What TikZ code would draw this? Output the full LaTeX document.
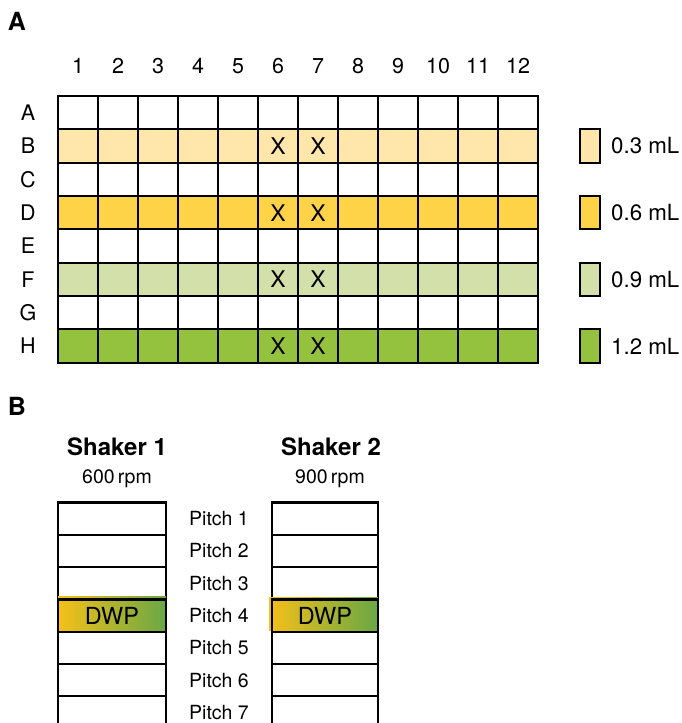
\documentclass[tikz,border=0pt]{standalone}
\usepackage{fontspec}
\setmainfont{TeX Gyre Heros}
\definecolor{volA}{RGB}{255,231,172}
\definecolor{volB}{RGB}{255,211,72}
\definecolor{volC}{RGB}{212,224,170}
\definecolor{volD}{RGB}{148,193,62}
\definecolor{dwpL}{RGB}{246,192,24}
\definecolor{dwpR}{RGB}{104,168,68}
\begin{document}
\begin{tikzpicture}[x=1pt,y=-1pt,
  cell/.style={draw, line width=2.2pt, minimum width=40pt, minimum height=33.33pt, inner sep=0pt, outer sep=0pt},
  legbox/.style={draw, line width=2pt, minimum width=20pt, minimum height=33.33pt, inner sep=0pt, outer sep=0pt},
  lbl/.style={inner sep=0pt, font=\fontsize{21.5}{24}\selectfont},
  xmark/.style={inner sep=0pt, font=\fontsize{23}{26}\selectfont},
  leglbl/.style={inner sep=0pt, anchor=west, font=\fontsize{22.3}{25}\selectfont},
  panel/.style={inner sep=0pt, font=\fontsize{25}{28}\bfseries\selectfont},
  shtitle/.style={inner sep=0pt, font=\fontsize{24}{27}\bfseries\selectfont},
  rpm/.style={inner sep=0pt, font=\fontsize{19.5}{22}\selectfont},
  pitch/.style={inner sep=0pt, font=\fontsize{19.5}{22}\selectfont},
  slot/.style={draw, line width=2.2pt, minimum height=32.3pt, inner sep=0pt, outer sep=0pt},
  dwp/.style={inner sep=0pt, font=\fontsize{23.5}{26}\selectfont}]
\useasboundingbox (0,0) rectangle (682,723);
\clip (0,0) rectangle (682,723);
\fill[white] (0,0) rectangle (682,723);

% panel labels
\node[panel] (pA) at (17,21) {A};
\node[panel] (pB) at (17,406) {B};

% column numbers
\foreach \c in {1,...,12} {
  \node[lbl] (col\c) at ({58+40*(\c-0.5)},66) {\c};
}
% row labels
\foreach \r/\L in {1/A,2/B,3/C,4/D,5/E,6/F,7/G,8/H} {
  \node[lbl] (row\r) at (28,{96+33.33*(\r-0.5)}) {\L};
}
% cells
\foreach \r/\col in {1/white,2/volA,3/white,4/volB,5/white,6/volC,7/white,8/volD} {
  \foreach \c in {1,...,12} {
    \node[cell, fill=\col] (cell-\r-\c) at ({58+40*(\c-0.5)},{96+33.33*(\r-0.5)}) {};
  }
}
% X marks
\foreach \r in {2,4,6,8} {
  \node[xmark] (x-\r-6) at (cell-\r-6) {X};
  \node[xmark] (x-\r-7) at (cell-\r-7) {X};
}
% legend
\foreach \r/\col/\t in {2/volA/0.3 mL,4/volB/0.6 mL,6/volC/0.9 mL,8/volD/1.2 mL} {
  \node[legbox, fill=\col] (leg\r) at (590,{96+33.33*(\r-0.5)}) {};
  \node[leglbl] (legt\r) at (611,{96+33.33*(\r-0.5)}) {\t};
}

% shakers
\node[shtitle] (sh1) at (117,447) {Shaker 1};
\node[rpm] (rpm1) at (117,479) {600\,rpm};
\node[shtitle] (sh2) at (331,447) {Shaker 2};
\node[rpm] (rpm2) at (330,479) {900\,rpm};

\foreach \i in {1,...,7} {
  \node[slot, minimum width=108pt] (s1-\i) at (112,{502.5+32.3*(\i-0.5)}) {};
  \node[slot, minimum width=106pt] (s2-\i) at (325,{502.5+32.3*(\i-0.5)}) {};
  \node[pitch] (p\i) at (219,{502.5+32.3*(\i-0.5)}) {Pitch \i};
}
% DWP gradient slots
\shade[left color=dwpL, right color=dwpR] (58,596.5) rectangle (166,630.5);
\shade[left color=dwpL, right color=dwpR] (269,597.5) rectangle (378,630.5);
\node[slot, minimum width=108pt] (d1) at (s1-4) {};
\node[slot, minimum width=106pt] (d2) at (s2-4) {};
\node[dwp] (dwp1) at (s1-4) {DWP};
\node[dwp] (dwp2) at (s2-4) {DWP};
\end{tikzpicture}
\end{document}
